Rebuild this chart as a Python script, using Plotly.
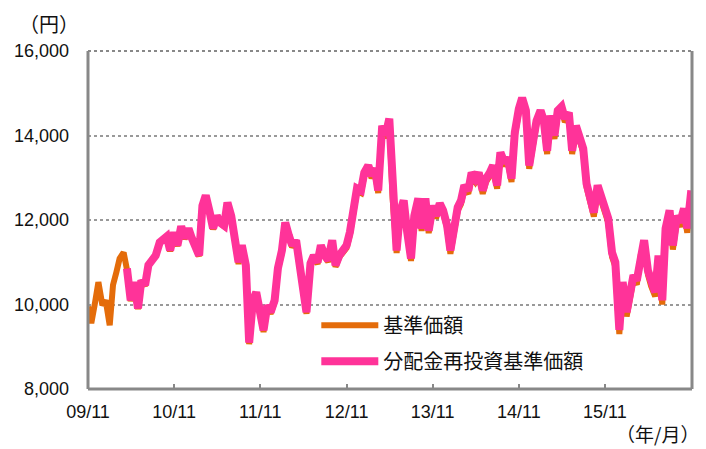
import pandas as pd
import plotly.graph_objects as go

# semi-monthly observation dates (1st / 15th), 2009-11 .. 2016-11
dates = pd.date_range("2009-11-01", periods=169, freq="SMS")

# 基準価額 (orange), full period
nav = [
    9950, 9560, 10050, 10530, 9980, 10100, 9510, 10460, 10760, 11090, 11230, 10830,
    10080, 10510, 9890, 10550, 10440, 10910, 11070, 11140, 11450, 11550, 11590, 11260,
    11690, 11380, 11830, 11550, 11780, 11550, 11310, 11140, 12320, 12560, 12160, 11780,
    12080, 11920, 11850, 12390, 12080,
    11550, 10960, 11360, 10890, 9060, 10060, 10250, 9640, 9350, 9940, 9780, 10060,
    10820, 11240, 11900, 11600, 11360, 11480, 10960, 10250, 9780, 10930, 11120, 10960,
    11360, 11120, 11010, 11480, 10890, 11120,
    11220, 11340, 11650, 12240, 12690, 12640, 13060, 13230, 12990, 13160, 12640, 14170,
    13940, 14340, 12520, 11220, 12120, 12400, 11690, 11030, 12040, 12450, 11740, 12450,
    11690, 12280, 12040, 12330, 12170, 11810,
    11200, 11860, 12220, 12380, 12740, 12620, 13040, 12900, 13040, 12620, 12900, 13040,
    13210, 12740, 13520, 13280, 13400, 12900, 13990, 14550, 14810, 14510, 13210, 13800,
    14270, 14510, 14270, 13560, 14390, 13920, 14510, 14600, 14320, 14460, 13560, 14150,
    13920, 13610, 12780, 12430,
    12080, 12720, 12480, 12240, 11940, 11130, 10900, 9300, 10430, 9720, 10240, 10590,
    10470, 11180, 11420, 10710, 10430, 10190, 11060, 10000, 11700, 12130, 11300, 12000,
    11840, 12170, 11700, 12600,
]

# 分配金再投資基準価額 (pink), starts 2010-04-15
reinvested = [
    10850,
    10100, 10530, 9910, 10570, 10460, 10930, 11090, 11160, 11470, 11570, 11610, 11280,
    11710, 11400, 11850, 11570, 11800, 11570, 11330, 11160, 12340, 12580, 12180, 11800,
    12100, 11940, 11870, 12410, 12100,
    11590, 11000, 11400, 10930, 9100, 10100, 10290, 9680, 9390, 9980, 9820, 10100,
    10860, 11280, 11940, 11640, 11400, 11520, 11000, 10290, 9820, 10970, 11160, 11000,
    11400, 11160, 11050, 11520, 10930, 11160,
    11280, 11400, 11710, 12300, 12750, 12700, 13120, 13290, 13050, 13220, 12700, 14230,
    14000, 14400, 12580, 11280, 12180, 12460, 11750, 11090, 12100, 12510, 11800, 12510,
    11750, 12340, 12100, 12390, 12230, 11870,
    11280, 11940, 12300, 12460, 12820, 12700, 13120, 12980, 13120, 12700, 12980, 13120,
    13290, 12820, 13600, 13360, 13480, 12980, 14070, 14630, 14890, 14590, 13290, 13880,
    14350, 14590, 14350, 13640, 14470, 14000, 14590, 14680, 14400, 14540, 13640, 14230,
    14000, 13690, 12860, 12510,
    12180, 12820, 12580, 12340, 12040, 11230, 11000, 9400, 10530, 9820, 10340, 10690,
    10570, 11280, 11520, 10810, 10530, 10290, 11160, 10100, 11800, 12230, 11400, 12100,
    11940, 12270, 11800, 12700,
]

series_names = ["基準価額", "分配金再投資基準価額"]
colors = ["#E46C0A", "#FF3399"]

FONT_NUM = "Liberation Sans, Arial, sans-serif"
FONT_JP = "Noto Sans CJK JP, sans-serif"

fig = go.Figure()
fig.add_trace(go.Scatter(
    x=dates, y=nav, mode="lines", name=series_names[0], legendgroup="a",
    line=dict(color=colors[0], width=6),
))
fig.add_trace(go.Scatter(
    x=dates[len(dates) - len(reinvested):], y=reinvested, mode="lines",
    name=series_names[1], legendgroup="b",
    line=dict(color=colors[1], width=8),
))

# page body has an 8px margin, so the figure is sized/offset to compensate
fig.update_layout(
    width=698, height=441,
    margin=dict(l=80, r=14, t=43, b=60, autoexpand=False),
    paper_bgcolor="white", plot_bgcolor="white",
    font=dict(family=FONT_NUM, size=18, color="#111"),
    showlegend=True,
    legend=dict(
        x=0.378, y=0.246, xanchor="left", yanchor="top",
        bgcolor="rgba(0,0,0,0)", itemwidth=57,
        font=dict(family=FONT_JP, size=20, color="#111"),
        tracegroupgap=7,
    ),
    xaxis=dict(
        range=["2009-11-01", "2016-11-04"],
        tick0="2009-11-01", dtick="M12", tickformat="%y/%m",
        ticks="inside", ticklen=5, tickwidth=2, tickcolor="#888",
        showgrid=False, showline=False, zeroline=False,
        ticklabelstandoff=10, automargin=False,
    ),
    yaxis=dict(
        range=[8000, 16000], dtick=2000, tickformat=",d",
        showgrid=True, gridcolor="#999", gridwidth=2, griddash="dot",
        showline=False, zeroline=False, ticks="",
        ticklabelstandoff=18, automargin=False,
    ),
    shapes=[
        dict(type="line", xref="paper", yref="paper", x0=0, x1=1, y0=1, y1=1,
             line=dict(color="#888", width=2, dash="dot")),
        dict(type="line", xref="paper", yref="paper", x0=0, x1=0, y0=0, y1=1,
             line=dict(color="#888", width=3)),
        dict(type="line", xref="paper", yref="paper", x0=1, x1=1, y0=0, y1=1,
             line=dict(color="#888", width=3)),
        dict(type="line", xref="paper", yref="paper", x0=0, x1=1, y0=0, y1=0,
             line=dict(color="#888", width=3)),
    ],
    annotations=[
        dict(text="（円）", xref="paper", yref="paper", x=-0.065, y=1.0,
             yshift=28, xanchor="center", yanchor="middle", showarrow=False,
             font=dict(family=FONT_JP, size=20, color="#111")),
        dict(text="（年/月）", xref="paper", yref="paper", x=1.0, y=0,
             xshift=8, yshift=-44, xanchor="right", yanchor="middle", showarrow=False,
             borderpad=0, font=dict(family=FONT_JP, size=19, color="#111")),
    ],
)

fig.write_html("out.html")
